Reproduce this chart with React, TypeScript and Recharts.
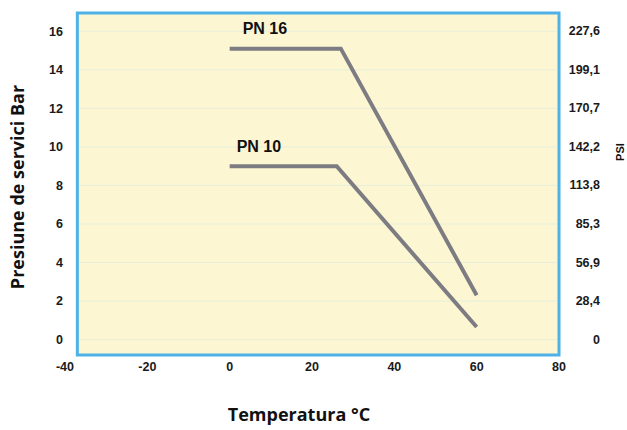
import { LineChart, Line, XAxis, YAxis, ReferenceArea, ReferenceLine, Label } from "recharts";

// temperature (°C) / pressure (bar) points
const pn16Temp = [0, 27, 60];
const pn16Bar = [15.1, 15.1, 2.3];
const pn10Temp = [0, 26, 60];
const pn10Bar = [9, 9, 0.65];

const xTicks = [-40, -20, 0, 20, 40, 60, 80];
const barTicks = [0, 2, 4, 6, 8, 10, 12, 14, 16];
const psiLabels = ["0", "28,4", "56,9", "85,3", "113,8", "142,2", "170,7", "199,1", "227,6"];

const pn16 = pn16Temp.map((t, i) => ({ t, bar: pn16Bar[i] }));
const pn10 = pn10Temp.map((t, i) => ({ t, bar: pn10Bar[i] }));

const FONT = "'Liberation Sans', Arial, sans-serif";
const TITLE_FONT = "'Open Sans', 'DejaVu Sans', sans-serif";
const LINE = "#7c7c82";
const BLUE = "#4fb2e6";

const yDomain: [number, number] = [-0.8, 16.95];

const tickStyle = { fontFamily: FONT, fontWeight: 700, fontSize: 12.5, fill: "#1a1a1a" };

function seriesLabel(name: string, dx: number, dy: number) {
  return (props: any) => {
    if (props.index !== 0) return null;
    return (
      <text x={props.x + dx} y={props.y + dy} fontFamily={FONT} fontWeight={700} fontSize={16} fill="#111">
        {name}
      </text>
    );
  };
}

function PsiTick(props: any) {
  const { x, y, payload } = props;
  const i = barTicks.indexOf(payload.value);
  return (
    <text x={x + 41} y={y} dy={4} textAnchor="end" {...tickStyle}>
      {psiLabels[i]}
    </text>
  );
}

export default function App() {
  return (
    <div style={{ position: "absolute", left: 0, top: 0, width: 627, height: 430, background: "#fff" }}>
      <LineChart width={627} height={430} margin={{ top: 13, right: 0, bottom: 0, left: 0 }}>
        <XAxis
          type="number"
          dataKey="t"
          domain={[-40, 80]}
          ticks={xTicks}
          allowDataOverflow
          axisLine={false}
          tickLine={false}
          tickSize={0}
          tickMargin={7}
          height={75}
          tick={tickStyle}
        >
          <Label
            content={() => (
              <text x={299} y={421} textAnchor="middle" fontFamily={TITLE_FONT} fontWeight={700} fontSize={18} fill="#111">
                Temperatura °C
              </text>
            )}
          />
        </XAxis>
        <YAxis
          yAxisId="left"
          type="number"
          domain={yDomain}
          ticks={barTicks}
          allowDataOverflow
          axisLine={false}
          tickLine={false}
          tickSize={0}
          tickMargin={2}
          width={65}
          tick={tickStyle}
        >
          <Label
            content={() => (
              <text
                x={24}
                y={187}
                transform="rotate(-90 24 187)"
                textAnchor="middle"
                fontFamily={TITLE_FONT}
                fontWeight={700}
                fontSize={18}
                fill="#111"
              >
                Presiune de servici Bar
              </text>
            )}
          />
        </YAxis>
        <YAxis
          yAxisId="right"
          orientation="right"
          type="number"
          domain={yDomain}
          ticks={barTicks}
          allowDataOverflow
          axisLine={false}
          tickLine={false}
          tickSize={0}
          tickMargin={0}
          width={68}
          tick={<PsiTick />}
        >
          <Label
            content={() => (
              <text
                x={624}
                y={152}
                transform="rotate(-90 624 152)"
                textAnchor="middle"
                fontFamily={FONT}
                fontWeight={700}
                fontSize={11}
                fill="#111"
              >
                PSI
              </text>
            )}
          />
        </YAxis>

        <ReferenceArea
          yAxisId="left"
          x1={-37}
          x2={80}
          y1={yDomain[0]}
          y2={yDomain[1]}
          fill="#fcf7d2"
          fillOpacity={1}
          stroke={BLUE}
          strokeWidth={3}
        />
        {barTicks.map((v) => (
          <ReferenceLine
            key={v}
            yAxisId="left"
            segment={[{ x: -36.5, y: v }, { x: 79.5, y: v }]}
            stroke="#e6eedb"
            strokeWidth={1}
          />
        ))}

        <Line
          yAxisId="left"
          data={pn16}
          dataKey="bar"
          stroke={LINE}
          strokeWidth={4}
          dot={false}
          isAnimationActive={false}
          label={seriesLabel("PN 16", 13, -15)}
        />
        <Line
          yAxisId="left"
          data={pn10}
          dataKey="bar"
          stroke={LINE}
          strokeWidth={4}
          dot={false}
          isAnimationActive={false}
          label={seriesLabel("PN 10", 7, -14)}
        />
      </LineChart>
    </div>
  );
}
